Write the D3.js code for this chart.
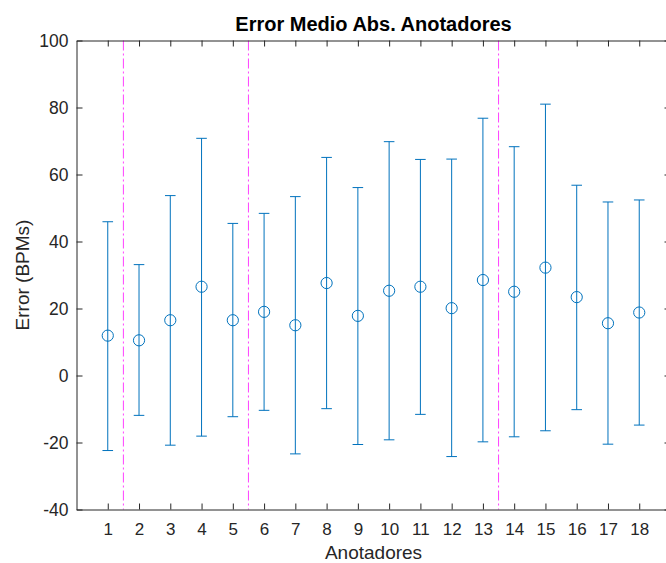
<!DOCTYPE html>
<html>
<head>
<meta charset="utf-8">
<script src="https://cdn.jsdelivr.net/npm/d3@7"></script>
<style>
  html, body { margin: 0; padding: 0; background: #fff; }
  svg { display: block; }
  text { font-family: "Liberation Sans", Arial, Helvetica, sans-serif; fill: #262626; }
</style>
</head>
<body>
<svg id="chart" width="666" height="563"></svg>
<script>
// ---- data ----
const annotators = [1,2,3,4,5,6,7,8,9,10,11,12,13,14,15,16,17,18];
const meanError  = [11.9,10.5,16.5,26.5,16.5,19.0,15.0,27.6,17.8,25.3,26.5,20.1,28.5,25.0,32.2,23.4,15.6,18.8];
const upperError = [45.9,33.1,53.7,70.8,45.4,48.4,53.4,65.1,56.1,69.8,64.5,64.6,76.8,68.3,81.0,56.8,51.8,52.4];
const lowerError = [-22.4,-11.9,-20.8,-18.1,-12.3,-10.4,-23.4,-9.9,-20.6,-19.2,-11.6,-24.2,-19.8,-18.3,-16.5,-10.2,-20.5,-14.8];
const separators = [1.5, 5.5, 13.5];
const yTicks = [-40,-20,0,20,40,60,80,100];
const titleText = "Error Medio Abs. Anotadores";
const xLabelText = "Anotadores";
const yLabelText = "Error (BPMs)";

(function () {
const data = annotators.map((a,i) => ({a, m: meanError[i], hi: upperError[i], lo: lowerError[i]}));

const svg = d3.select("#chart");
const mLeft = 76.5, mRight = 670.5, mTop = 40.5, mBottom = 509.5;

const x = d3.scaleLinear().domain([0,19]).range([mLeft, mRight]);
const y = d3.scaleLinear().domain([-40,100]).range([mBottom, mTop]);

const axisColor = "#262626";
const blue = "#0072BD";

// separators
svg.append("g").selectAll("line").data(separators).join("line")
  .attr("x1", d => x(d)).attr("x2", d => x(d))
  .attr("y1", y(100)).attr("y2", y(-40))
  .attr("stroke", "#ff00ff").attr("stroke-opacity", 0.75)
  .attr("stroke-width", 1)
  .attr("stroke-dasharray", "10,3,2,3");

// error bars
const eb = svg.append("g").attr("stroke", blue).attr("fill", "none").attr("stroke-width", 1);
const capW = 5.3;
eb.selectAll(".v").data(data).join("line").attr("class", "v")
  .attr("x1", d => x(d.a)).attr("x2", d => x(d.a))
  .attr("y1", d => y(d.hi)).attr("y2", d => y(d.lo));
eb.selectAll(".ct").data(data).join("line").attr("class", "ct")
  .attr("x1", d => x(d.a) - capW).attr("x2", d => x(d.a) + capW)
  .attr("y1", d => y(d.hi)).attr("y2", d => y(d.hi));
eb.selectAll(".cb").data(data).join("line").attr("class", "cb")
  .attr("x1", d => x(d.a) - capW).attr("x2", d => x(d.a) + capW)
  .attr("y1", d => y(d.lo)).attr("y2", d => y(d.lo));
eb.selectAll("circle").data(data).join("circle")
  .attr("cx", d => x(d.a)).attr("cy", d => y(d.m)).attr("r", 5.6)
  .attr("fill", "none");

// axes
function styleAxis(g) {
  g.selectAll("path").attr("stroke", axisColor).attr("stroke-width", 1);
  g.selectAll("line").attr("stroke", axisColor).attr("stroke-width", 1);
  g.selectAll("text").attr("fill", axisColor).style("font-family", '"Liberation Sans", Arial, sans-serif');
}

const gx = svg.append("g").attr("transform", `translate(0,${mBottom})`)
  .call(d3.axisBottom(x).tickValues(annotators).tickFormat(d => String(d)).tickSize(-6).tickSizeOuter(0).tickPadding(13));
styleAxis(gx);
gx.selectAll("text").attr("font-size", 17);

const gt = svg.append("g").attr("transform", `translate(0,${mTop})`)
  .call(d3.axisTop(x).tickValues(annotators).tickFormat("").tickSize(-6).tickSizeOuter(0));
styleAxis(gt);

const gy = svg.append("g").attr("transform", `translate(${mLeft},0)`)
  .call(d3.axisLeft(y).tickValues(yTicks).tickFormat(d => String(d)).tickSize(-6).tickSizeOuter(0).tickPadding(8));
styleAxis(gy);
gy.selectAll("text").attr("font-size", 17.5);

const gr = svg.append("g").attr("transform", `translate(${mRight},0)`)
  .call(d3.axisRight(y).tickValues(yTicks).tickFormat("").tickSize(-6).tickSizeOuter(0));
styleAxis(gr);

// title and labels
svg.append("text").attr("x", (mLeft + mRight) / 2).attr("y", 31)
  .attr("text-anchor", "middle").attr("font-size", 20).attr("font-weight", "bold")
  .attr("fill", "#000").style("fill", "#000").text(titleText);

svg.append("text").attr("x", (mLeft + mRight) / 2).attr("y", 559)
  .attr("text-anchor", "middle").attr("font-size", 19).text(xLabelText);

svg.append("text").attr("transform", `translate(29,${(mTop + mBottom) / 2}) rotate(-90)`)
  .attr("text-anchor", "middle").attr("font-size", 19).text(yLabelText);
})();
</script>
</body>
</html>
